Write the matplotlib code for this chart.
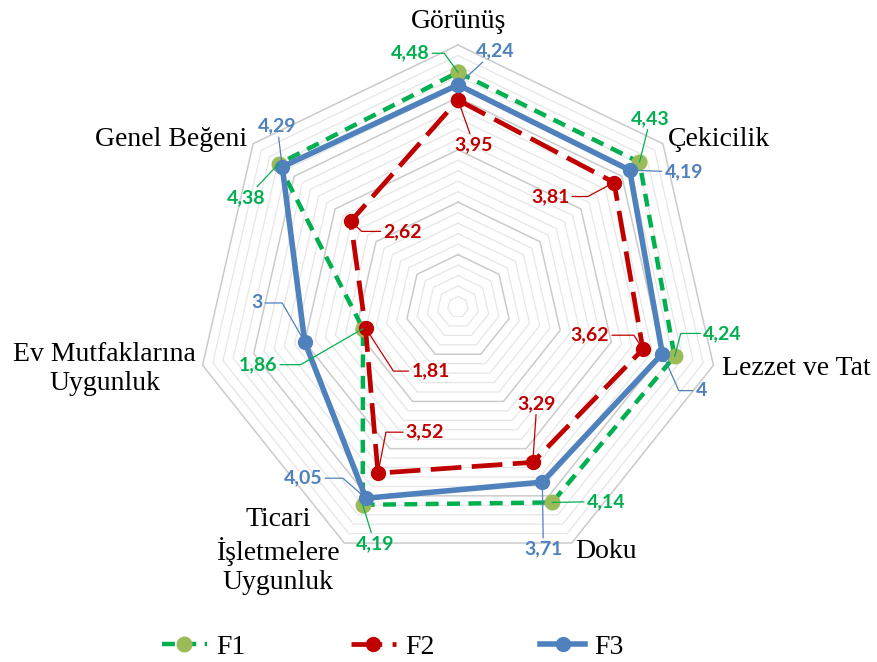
import numpy as np
import matplotlib
matplotlib.use('Agg')
import matplotlib.pyplot as plt

categories = ['Görünüş', 'Çekicilik', 'Lezzet ve Tat', 'Doku',
              'Ticari\nİşletmelere\nUygunluk', 'Ev Mutfaklarına\nUygunluk', 'Genel Beğeni']
series_names = ['F1', 'F2', 'F3']
f1 = [4.48, 4.43, 4.24, 4.14, 4.19, 1.86, 4.38]
f2 = [3.95, 3.81, 3.62, 3.29, 3.52, 1.81, 2.62]
f3 = [4.24, 4.19, 4.00, 3.71, 4.05, 3.00, 4.29]

# styles
line_colors = ['#00b050', '#c00000', '#4f81bd']
marker_colors = ['#9bbb59', '#c00000', '#4f81bd']
line_widths = [3.2, 3.4, 4.0]
dash_styles = [(0, (2.9, 1.9)), (0, (6.5, 2.2)), '-']
marker_sizes = [10.5, 10, 10]

# data label offsets in pixels (dx, dy up) and leader angle at the point (None = straight)
label_layout = [
    [(-48, 19, 126), (11, 44, None), (48, 23, 75), (54, 1, None),
     (12, -39, None), (-105, -36, 210), (-32, -34, None)],
    [(16, -45, None), (-64, -14, 208), (-53, 14, 123), (4, 59, None),
     (47, 41, 79), (65, -43, -57), (52, -10, -42)],
    [(37, 34, None), (54, -2, None), (39, -37, -66), (1, -67, None),
     (-63, 20, 139), (-48, 39, 120), (-5, 41, None)],
]
# category label offsets from outer vertex (dx, dy up, ha)
cat_layout = [(1, 23, 'center'), (5, 4, 'left'), (9, -3, 'left'), (4, -8, 'left'),
              (-66, -8, 'center'), (-98, -4, 'center'), (-6, 4, 'right')]

W, H = 877, 662
cx, cy, R = 458, 307, 262
fig = plt.figure(figsize=(W / 100, H / 100), dpi=100)
ax = fig.add_axes([(cx - R) / W, (H - cy - R) / H, 2 * R / W, 2 * R / H], projection='polar')
ax.set_theta_offset(np.pi / 2)
ax.set_theta_direction(-1)
ax.set_ylim(0, 5)
ax.axis('off')

n = len(categories)
angles = np.linspace(0, 2 * np.pi, n, endpoint=False)
closed = np.append(angles, angles[0])

# heptagon grid rings
for k in range(1, 26):
    r = k * 0.2
    major = k % 5 == 0
    ax.plot(closed, [r] * (n + 1), color='#cbcbcb' if major else '#e6e6e6',
            lw=1.1 if major else 0.9, zorder=1, clip_on=False)

handles = []
for i, vals in enumerate([f1, f2, f3]):
    v = np.append(vals, vals[0])
    h, = ax.plot(closed, v, color=line_colors[i], lw=line_widths[i], linestyle=dash_styles[i],
                 marker='o', markersize=marker_sizes[i], markerfacecolor=marker_colors[i],
                 markeredgecolor=marker_colors[i], zorder=3 + i, clip_on=False,
                 dash_capstyle='butt', label=series_names[i])
    handles.append(h)
    for j, val in enumerate(vals):
        dx, dy, ang = label_layout[i][j]
        txt = f'{val:g}'.replace('.', ',')
        if ang is None:
            cs = 'arc3,rad=0'
        else:
            cs = f'angle,angleA=0,angleB={ang},rad=0'
        ax.annotate(txt, xy=(angles[j], val), xytext=(dx, dy), textcoords='offset pixels',
                    ha='center', va='center', color=line_colors[i], fontsize=14,
                    fontweight='bold', family=['Lato', 'DejaVu Sans'],
                    annotation_clip=False, zorder=7,
                    arrowprops=dict(arrowstyle='-', color=line_colors[i], lw=0.9,
                                    shrinkA=0, shrinkB=0, connectionstyle=cs))

for j, name in enumerate(categories):
    dx, dy, ha = cat_layout[j]
    ax.annotate(name, xy=(angles[j], 5), xytext=(dx, dy), textcoords='offset pixels',
                ha=ha, va='center', multialignment='center', fontsize=20,
                family='Liberation Serif', annotation_clip=False, linespacing=1.2)

fig.legend(handles=handles, loc='center', bbox_to_anchor=(393 / W, 1 - 647 / H), ncol=3,
           frameon=False, prop={'family': 'Liberation Serif', 'size': 20},
           handlelength=1.6, handletextpad=0.35, columnspacing=3.8)

fig.savefig('out.png', dpi=100)
